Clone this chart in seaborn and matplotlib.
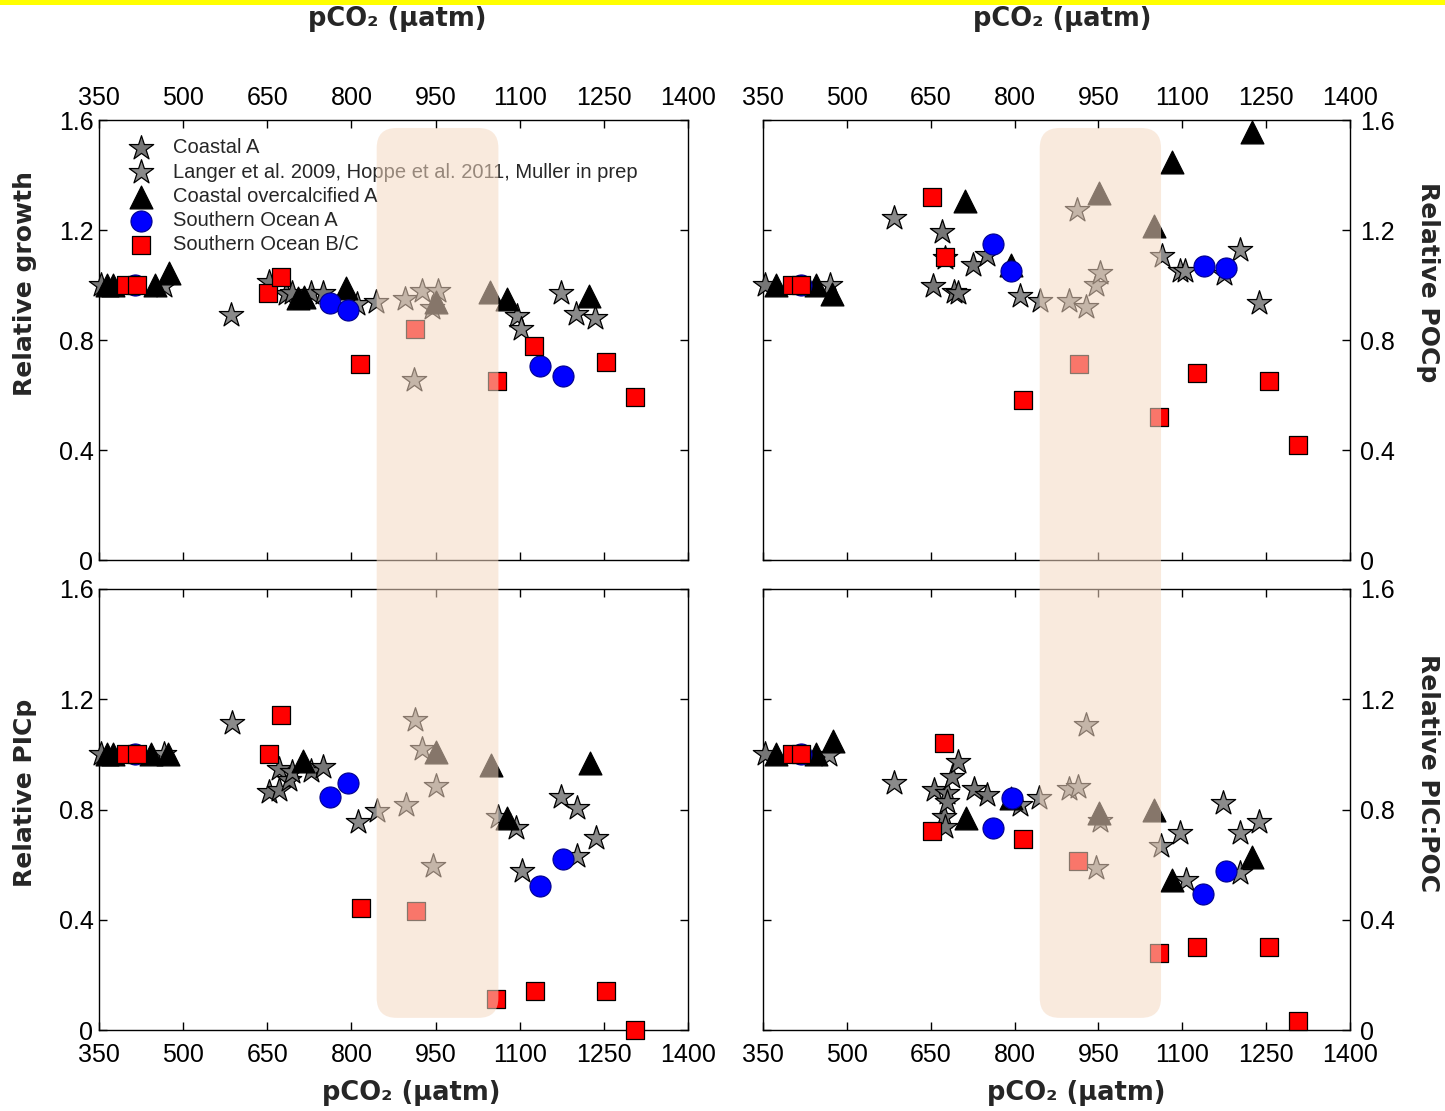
import numpy as np
import pandas as pd
import matplotlib
matplotlib.use("Agg")
import matplotlib.pyplot as plt
from matplotlib.patches import FancyBboxPatch, Rectangle
from matplotlib.transforms import IdentityTransform
import seaborn as sns

# ========== DATOS ==========
x_ticks = [350, 500, 650, 800, 950, 1100, 1250, 1400]
x_tick_labels = ["350", "500", "650", "800", "950", "1100", "1250", "1400"]
y_ticks = [0, 0.4, 0.8, 1.2, 1.6]
y_tick_labels = ["0", "0.4", "0.8", "1.2", "1.6"]

series_names = ["Coastal A",
                "Langer et al. 2009, Hoppe et al. 2011, Muller in prep",
                "Coastal overcalcified A",
                "Southern Ocean A",
                "Southern Ocean B/C"]

# zona sombreada (pCO2) y su extension vertical
shade_x = [845, 1062]
shade_top = 1.571
shade_bottom = 0.044

# --- Relative growth ---
growth_coastal_x = [353, 653, 684, 694, 728, 749]
growth_coastal_y = [1.0, 1.01, 0.966, 0.97, 0.97, 0.97]
growth_langer_x = [466, 585, 810, 844, 895, 926, 955, 943, 912, 1095, 1103, 1174, 1200, 1235]
growth_langer_y = [0.996, 0.891, 0.93, 0.94, 0.948, 0.978, 0.978, 0.918, 0.653, 0.888, 0.84, 0.97, 0.894, 0.879]
growth_tri_x = [365, 375, 450, 475, 705, 715, 791, 950, 1047, 1077, 1223]
growth_tri_y = [1.0, 1.0, 1.0, 1.045, 0.954, 0.955, 0.99, 0.94, 0.975, 0.95, 0.96]
growth_so_a_x = [415, 761, 793, 1136, 1177]
growth_so_a_y = [1.0, 0.936, 0.908, 0.707, 0.669]
growth_so_bc_x = [398, 418, 652, 674, 816, 914, 1059, 1126, 1253, 1306]
growth_so_bc_y = [1.0, 1.0, 0.97, 1.03, 0.714, 0.84, 0.651, 0.78, 0.72, 0.593]

# --- Relative POCp ---
poc_coastal_x = [353, 654, 670, 676, 692, 699, 726, 751]
poc_coastal_y = [1.0, 0.995, 1.193, 1.10, 0.975, 0.97, 1.072, 1.11]
poc_langer_x = [469, 584, 810, 845, 897, 912, 927, 945, 953, 1064, 1096, 1105, 1175, 1203, 1237]
poc_langer_y = [1.0, 1.242, 0.96, 0.942, 0.942, 1.274, 0.921, 1.0, 1.042, 1.105, 1.052, 1.05, 1.04, 1.128, 0.935]
poc_tri_x = [374, 445, 474, 712, 793, 951, 1050, 1081, 1225]
poc_tri_y = [1.0, 1.0, 0.968, 1.307, 1.074, 1.336, 1.215, 1.447, 1.558]
poc_so_a_x = [418, 761, 794, 1138, 1179]
poc_so_a_y = [1.0, 1.15, 1.051, 1.07, 1.061]
poc_so_bc_x = [401, 418, 652, 675, 815, 915, 1058, 1126, 1255, 1307]
poc_so_bc_y = [1.0, 1.0, 1.32, 1.101, 0.581, 0.712, 0.52, 0.68, 0.651, 0.418]

# --- Relative PICp ---
pic_coastal_x = [353, 653, 670, 670, 688, 694, 728, 750]
pic_coastal_y = [1.0, 0.864, 0.872, 0.948, 0.908, 0.936, 0.94, 0.954]
pic_langer_x = [466, 587, 812, 846, 897, 913, 926, 951, 945, 1061, 1093, 1104, 1173, 1202, 1202, 1236]
pic_langer_y = [1.0, 1.115, 0.755, 0.796, 0.815, 1.125, 1.02, 0.885, 0.596, 0.774, 0.733, 0.577, 0.845, 0.804, 0.63, 0.697]
pic_tri_x = [365, 375, 442, 473, 714, 951, 1049, 1078, 1225]
pic_tri_y = [1.0, 1.0, 1.0, 1.0, 0.976, 1.008, 0.96, 0.768, 0.97]
pic_so_a_x = [415, 762, 794, 1136, 1178]
pic_so_a_y = [1.0, 0.844, 0.895, 0.524, 0.622]
pic_so_bc_x = [398, 418, 653, 675, 817, 915, 1058, 1127, 1254, 1305]
pic_so_bc_y = [1.0, 1.0, 1.002, 1.143, 0.444, 0.433, 0.113, 0.142, 0.142, 0.0]

# --- Relative PIC:POC ---
ratio_coastal_x = [353, 655, 673, 675, 679, 680, 688, 698, 727, 751]
ratio_coastal_y = [1.0, 0.872, 0.774, 0.738, 0.86, 0.828, 0.918, 0.972, 0.876, 0.852]
ratio_langer_x = [468, 584, 810, 844, 897, 914, 928, 952, 946, 1062, 1096, 1106, 1172, 1203, 1203, 1237]
ratio_langer_y = [0.999, 0.895, 0.815, 0.84, 0.873, 0.882, 1.105, 0.757, 0.588, 0.668, 0.715, 0.545, 0.825, 0.716, 0.571, 0.756]
ratio_tri_x = [374, 445, 476, 713, 793, 951, 1050, 1082, 1225]
ratio_tri_y = [1.0, 1.0, 1.05, 0.77, 0.84, 0.786, 0.799, 0.545, 0.628]
ratio_so_a_x = [418, 762, 795, 1137, 1178]
ratio_so_a_y = [1.0, 0.732, 0.84, 0.495, 0.578]
ratio_so_bc_x = [401, 418, 652, 673, 815, 914, 1058, 1126, 1255, 1307]
ratio_so_bc_y = [1.0, 1.0, 0.722, 1.042, 0.694, 0.613, 0.28, 0.30, 0.30, 0.033]

# ========== ESTILO ==========
sns.set_theme(style="white")
plt.rcParams["font.family"] = ["Liberation Sans", "DejaVu Sans"]

fig = plt.figure(figsize=(14.45, 11.11), dpi=100)
W, H = 1445, 1111


def px_axes(left, top, right, bottom):
    return fig.add_axes([left / W, 1 - bottom / H, (right - left) / W, (bottom - top) / H])


ax_growth = px_axes(99, 120, 688, 560)
ax_pic = px_axes(99, 589, 688, 1030)
ax_poc = px_axes(763, 120, 1350, 560)
ax_ratio = px_axes(763, 589, 1350, 1030)

styles = [
    dict(marker="*", s=340, color="#767676", edgecolor="black", linewidth=0.9),
    dict(marker="*", s=340, color="#8a8a8a", edgecolor="black", linewidth=0.9),
    dict(marker="^", s=270, color="black", edgecolor="black", linewidth=0.9),
    dict(marker="o", s=230, color="#0000ff", edgecolor="#00008b", linewidth=0.8),
    dict(marker="s", s=150, color="#ff0000", edgecolor="black", linewidth=0.9),
]


def draw_panel(ax, data, with_labels=False):
    for i, (xs, ys) in enumerate(data):
        kw = dict(styles[i])
        if with_labels:
            kw["label"] = series_names[i]
        sns.scatterplot(x=xs, y=ys, ax=ax, clip_on=False, zorder=3 + i, **kw)


def style_axis(ax, labels_top, labels_right):
    ax.set_xlim(350, 1400)
    ax.set_ylim(0, 1.6)
    ax.set_xticks(x_ticks)
    ax.set_xticklabels(x_tick_labels)
    ax.set_yticks(y_ticks)
    ax.set_yticklabels(y_tick_labels)
    ax.tick_params(axis="both", direction="in", length=6, width=1, color="black",
                   labelcolor="black", labelsize=18, top=True, bottom=True, left=True, right=True)
    ax.tick_params(axis="x", labeltop=labels_top, labelbottom=not labels_top,
                   pad=7 if labels_top else 9)
    ax.tick_params(axis="y", labelleft=not labels_right, labelright=labels_right,
                   pad=4 if not labels_right else 7)
    for sp in ax.spines.values():
        sp.set_color("black")
        sp.set_linewidth(1)
    ax.set_xlabel("")
    ax.set_ylabel("")


draw_panel(ax_growth, [(growth_coastal_x, growth_coastal_y), (growth_langer_x, growth_langer_y),
                       (growth_tri_x, growth_tri_y), (growth_so_a_x, growth_so_a_y),
                       (growth_so_bc_x, growth_so_bc_y)], with_labels=True)
draw_panel(ax_poc, [(poc_coastal_x, poc_coastal_y), (poc_langer_x, poc_langer_y),
                    (poc_tri_x, poc_tri_y), (poc_so_a_x, poc_so_a_y),
                    (poc_so_bc_x, poc_so_bc_y)])
draw_panel(ax_pic, [(pic_coastal_x, pic_coastal_y), (pic_langer_x, pic_langer_y),
                    (pic_tri_x, pic_tri_y), (pic_so_a_x, pic_so_a_y),
                    (pic_so_bc_x, pic_so_bc_y)])
draw_panel(ax_ratio, [(ratio_coastal_x, ratio_coastal_y), (ratio_langer_x, ratio_langer_y),
                      (ratio_tri_x, ratio_tri_y), (ratio_so_a_x, ratio_so_a_y),
                      (ratio_so_bc_x, ratio_so_bc_y)])

style_axis(ax_growth, True, False)
style_axis(ax_pic, False, False)
style_axis(ax_poc, True, True)
style_axis(ax_ratio, False, True)

ax_growth.legend(loc="upper left", bbox_to_anchor=(0.051, 0.958), frameon=False,
                 fontsize=14.5, borderpad=0, borderaxespad=0, handlelength=1.2,
                 handletextpad=1.0, labelspacing=0.26, scatterpoints=1)

# ========== ETIQUETAS ==========
lab = dict(fontsize=18.5, fontweight="bold", family="DejaVu Sans", ha="center", va="center")
fig.text(397 / W, 1 - 19 / H, "pCO₂ (µatm)", **lab)
fig.text(1062 / W, 1 - 19 / H, "pCO₂ (µatm)", **lab)
fig.text(411 / W, 1 - 1093 / H, "pCO₂ (µatm)", **lab)
fig.text(1076 / W, 1 - 1093 / H, "pCO₂ (µatm)", **lab)

ylab = dict(fontsize=18, fontweight="bold", family="DejaVu Sans", ha="center", va="center")
fig.text(25 / W, 1 - 283 / H, "Relative growth", rotation=90, **ylab)
fig.text(25 / W, 1 - 793 / H, "Relative PICp", rotation=90, **ylab)
fig.text(1428 / W, 1 - 282 / H, "Relative POCp", rotation=270, **ylab)
fig.text(1428 / W, 1 - 773 / H, "Relative PIC:POC", rotation=270, **ylab)

# ========== ZONA SOMBREADA ==========
for ax_top, ax_bot in [(ax_growth, ax_pic), (ax_poc, ax_ratio)]:
    x0, y1 = ax_top.transData.transform((shade_x[0], shade_top))
    x1, _ = ax_top.transData.transform((shade_x[1], shade_top))
    _, y0 = ax_bot.transData.transform((shade_x[0], shade_bottom))
    patch = FancyBboxPatch((x0, y0), x1 - x0, y1 - y0,
                           boxstyle="round,pad=0,rounding_size=20",
                           transform=IdentityTransform(), facecolor=(0.96, 0.85, 0.76),
                           edgecolor="none", alpha=0.55, zorder=10)
    fig.add_artist(patch)

# barra amarilla superior
fig.add_artist(Rectangle((0, 1 - 5 / H), 1, 5 / H, transform=fig.transFigure,
                         facecolor="#ffff00", edgecolor="none", zorder=11))

fig.savefig("out.png", dpi=100)
